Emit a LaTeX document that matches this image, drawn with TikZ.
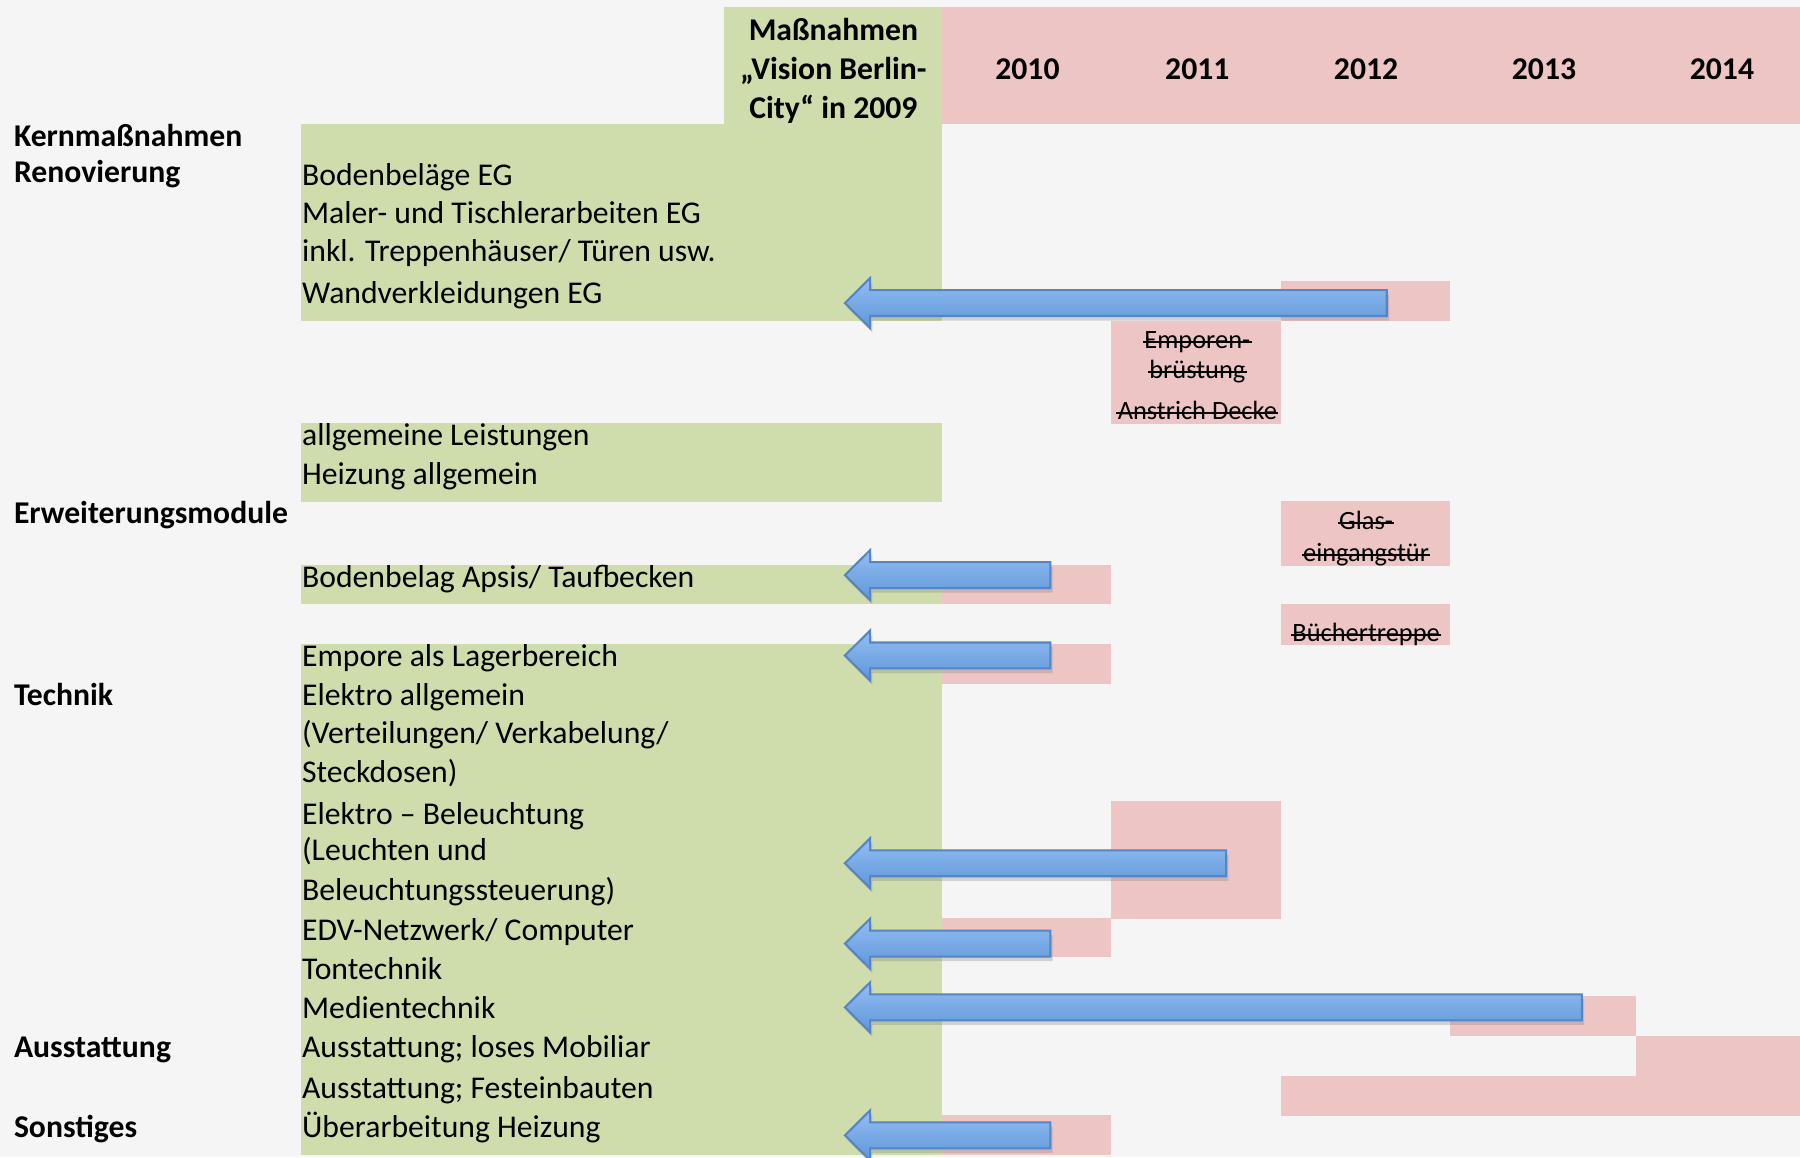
\documentclass[tikz,border=0pt]{standalone}
\usepackage{fontspec}
\setmainfont{Carlito}
\usetikzlibrary{shadows}
\definecolor{bg}{HTML}{F5F5F5}
\definecolor{gr}{HTML}{CEDDAB}
\definecolor{pk}{HTML}{ECC5C4}
\definecolor{blueL}{HTML}{93BEF3}
\definecolor{blueD}{HTML}{5F96D8}
\definecolor{blueB}{HTML}{5585C3}
\newcommand\bluearrow[3]{%
  \path[arr] (#2,#3-11.3) -- (758,#3-11.3) -- (758,#3-21.8) -- (736,#3) -- (758,#3+21.8) -- (758,#3+11.3) -- (#2,#3+11.3) -- cycle;}
\newcommand\strucktext[5][5.6pt]{%
  \node[st] (#2) at (#3,#4) {#5};
  \draw[strike] ([yshift=#1,xshift=-1pt]#2.base west) -- ([yshift=#1,xshift=1pt]#2.base east);}
\begin{document}
\begin{tikzpicture}[x=1pt,y=-1pt,
  txt/.style={anchor=base west, inner sep=0pt, font=\fontsize{27.6}{33}\selectfont},
  hd/.style={anchor=base west, inner sep=0pt, font=\fontsize{27.6}{33}\selectfont\bfseries},
  yr/.style={anchor=base, inner sep=0pt, font=\fontsize{27.6}{33}\selectfont\bfseries},
  st/.style={anchor=base, inner sep=0pt, font=\fontsize{23}{28}\selectfont},
  strike/.style={line width=1.7pt, black},
  grbox/.style={fill=gr},
  pkbox/.style={fill=pk},
  arr/.style={draw=blueB, line width=1.8pt, top color=blueL, bottom color=blueD, line join=miter,
    drop shadow={opacity=0.3, shadow xshift=2pt, shadow yshift=-4pt}}]
\useasboundingbox (0,0) rectangle (1568,1008);
\fill[bg] (0,0) rectangle (1568,1008);
% green areas
\fill[grbox] (631,6) rectangle (821,108);
\fill[grbox] (262,108) rectangle (821,279.6);
\fill[grbox] (262,368.5) rectangle (821,437);
\fill[grbox] (262,492) rectangle (821,526);
\fill[grbox] (262,561) rectangle (821,1006);
% pink areas
\fill[pkbox] (821,6) rectangle (1568,108);
\fill[pkbox] (1116,245) rectangle (1263,279.6);
\fill[pkbox] (968,279.6) rectangle (1116,369.3);
\fill[pkbox] (1116,436.4) rectangle (1263,493);
\fill[pkbox] (821,492) rectangle (968,526);
\fill[pkbox] (1116,526) rectangle (1263,561.8);
\fill[pkbox] (821,561) rectangle (968,596);
\fill[pkbox] (968,698) rectangle (1116,800.5);
\fill[pkbox] (821,800) rectangle (968,834);
\fill[pkbox] (1263,867.6) rectangle (1425,902.4);
\fill[pkbox] (1425,902.4) rectangle (1568,937.3);
\fill[pkbox] (1116,937) rectangle (1568,972);
\fill[pkbox] (821,971) rectangle (968,1006);
% header
\node[yr] (h1) at (726,35.5) {Maßnahmen};
\node[yr] (h2) at (726,69.5) {„Vision Berlin-};
\node[yr] (h3) at (726,103.5) {City“ in 2009};
\node[yr] (y10) at (895,69.5) {2010};
\node[yr] (y11) at (1043,69.5) {2011};
\node[yr] (y12) at (1190,69.5) {2012};
\node[yr] (y13) at (1345,69.5) {2013};
\node[yr] (y14) at (1500,69.5) {2014};
% left headings
\node[hd] (k1) at (12,128) {Kernmaßnahmen};
\node[hd] (k2) at (12,159) {Renovierung};
\node[hd] (k3) at (12,456) {Erweiterungsmodule};
\node[hd] (k4) at (12,615) {Technik};
\node[hd] (k5) at (12,921) {Ausstattung};
\node[hd] (k6) at (12,991) {Sonstiges};
% green texts
\node[txt] (t1) at (263,162) {Bodenbeläge EG};
\node[txt] (t2) at (263,195) {Maler- und Tischlerarbeiten EG};
\node[txt] (t3) at (263,228) {inkl. Treppenhäuser/ Türen usw.};
\node[txt] (t4) at (263,264) {Wandverkleidungen EG};
\node[txt] (t5) at (263,388) {allgemeine Leistungen};
\node[txt] (t6) at (263,422) {Heizung allgemein};
\node[txt] (t7) at (263,512) {Bodenbelag Apsis/ Taufbecken};
\node[txt] (t8) at (263,581) {Empore als Lagerbereich};
\node[txt] (t9) at (263,615) {Elektro allgemein};
\node[txt] (t10) at (263,648) {(Verteilungen/ Verkabelung/};
\node[txt] (t11) at (263,682) {Steckdosen)};
\node[txt] (t12) at (263,718) {Elektro – Beleuchtung};
\node[txt] (t13) at (263,750) {(Leuchten und};
\node[txt] (t14) at (263,784) {Beleuchtungssteuerung)};
\node[txt] (t15) at (263,819) {EDV-Netzwerk/ Computer};
\node[txt] (t16) at (263,853) {Tontechnik};
\node[txt] (t17) at (263,887) {Medientechnik};
\node[txt] (t18) at (263,921) {Ausstattung; loses Mobiliar};
\node[txt] (t19) at (263,957) {Ausstattung; Festeinbauten};
\node[txt] (t20) at (263,991) {Überarbeitung Heizung};
% struck texts
\strucktext{s1}{1043}{303.5}{Emporen-}
\strucktext{s2}{1043}{329.5}{brüstung}
\strucktext{s3}{1043}{365}{Anstrich Decke}
\strucktext{s4}{1190}{461.6}{Glas-}
\strucktext{s5}{1190}{489}{eingangstür}
\strucktext{s6}{1190}{558.6}{Büchertreppe}
% arrows
\bluearrow{a1}{1208}{264}
\bluearrow{a2}{915}{501}
\bluearrow{a3}{915}{571}
\bluearrow{a4}{1068}{752}
\bluearrow{a5}{915}{822}
\bluearrow{a6}{1378}{877.5}
\bluearrow{a7}{915}{989}
\end{tikzpicture}
\end{document}
